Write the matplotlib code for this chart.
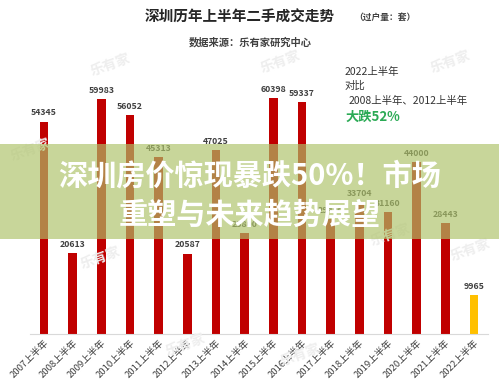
import matplotlib
matplotlib.use("Agg")
import matplotlib.pyplot as plt
from matplotlib.patches import Rectangle

plt.rcParams['font.family'] = ['Noto Sans CJK SC', 'DejaVu Sans']

years = ['2007', '2008', '2009', '2010', '2011', '2012', '2013', '2014',
         '2015', '2016', '2017', '2018', '2019', '2020', '2021', '2022']
labels = [y + '上半年' for y in years]
deals = [54345, 20613, 59983, 56052, 45313, 20587, 47025, 25800,
         60398, 59337, 29400, 33704, 31160, 44000, 28443, 9965]


def plot_deals():
    fig = plt.figure(figsize=(4.99, 3.86), dpi=100)
    ax = fig.add_axes([0.0595, 0.1347, 0.919, 0.709])

    colors = ['#C00000'] * (len(deals) - 1) + ['#FFC000']
    x = list(range(len(deals)))
    bars = ax.bar(x, deals, width=0.3, color=colors, zorder=2)
    for b, v in zip(bars, deals):
        ax.annotate(str(v), (b.get_x() + b.get_width() / 2, v),
                    xytext=(0, 3), textcoords='offset points',
                    ha='center', va='bottom', fontsize=6.3,
                    fontweight='bold', color='#404040')

    ax.set_xlim(-0.5, len(deals) - 0.5)
    ax.set_ylim(0, 70000)
    ax.set_xticks(x)
    ax.set_xticklabels(labels, rotation=45, ha='right', rotation_mode='anchor',
                       fontsize=6.8, color='#404040')
    ax.tick_params(axis='x', length=0, pad=3)
    ax.set_yticks([])
    for s in ['top', 'right', 'left']:
        ax.spines[s].set_visible(False)
    ax.spines['bottom'].set_color('#d9d9d9')

    # titles
    fig.text(240 / 499, 1 - 17 / 386, '深圳历年上半年二手成交走势', ha='center',
             va='center', fontsize=10.5, fontweight='bold', color='#262626')
    fig.text(385 / 499, 1 - 17 / 386, '（过户量：套）', ha='center', va='center',
             fontsize=6.3, fontweight='bold', color='#404040')
    fig.text(250 / 499, 1 - 42 / 386, '数据来源：乐有家研究中心', ha='center',
             va='center', fontsize=7.4, fontweight='bold', color='#404040')

    # comparison note
    fig.text(345 / 499, 1 - 72 / 386, '2022上半年', fontsize=7.5, va='center',
             color='#333333')
    fig.text(345 / 499, 1 - 86 / 386, '对比', fontsize=7.5, va='center',
             color='#333333')
    fig.text(349 / 499, 1 - 101 / 386, '2008上半年、2012上半年', fontsize=7.5,
             va='center', color='#333333')
    fig.text(345 / 499, 1 - 117 / 386, '大跌52%', fontsize=9.5, va='center',
             fontweight='bold', color='#2BAA55')

    # faint watermarks
    for wx, wy in [(110, 65), (280, 62), (450, 62), (30, 150), (100, 258),
                   (185, 345), (300, 355), (390, 235), (470, 250)]:
        fig.text(wx / 499, 1 - wy / 386, '乐有家', fontsize=10, rotation=20,
                 ha='center', va='center', color='#eeeeee', fontweight='bold',
                 zorder=1)

    # overlay banner
    fig.patches.append(Rectangle((0, 1 - 239 / 386), 1, 95 / 386,
                                 transform=fig.transFigure, facecolor='#AEC369',
                                 alpha=0.67, edgecolor='none', zorder=5))
    fig.text(250 / 499, 1 - 176 / 386, '深圳房价惊现暴跌50%！市场', ha='center',
             va='center', fontsize=21, fontweight='bold', color='white',
             zorder=6)
    fig.text(250 / 499, 1 - 215 / 386, '重塑与未来趋势展望', ha='center',
             va='center', fontsize=21, fontweight='bold', color='white',
             zorder=6)

    fig.savefig('out.png', dpi=100)


def main():
    plot_deals()


if __name__ == "__main__":
    main()
